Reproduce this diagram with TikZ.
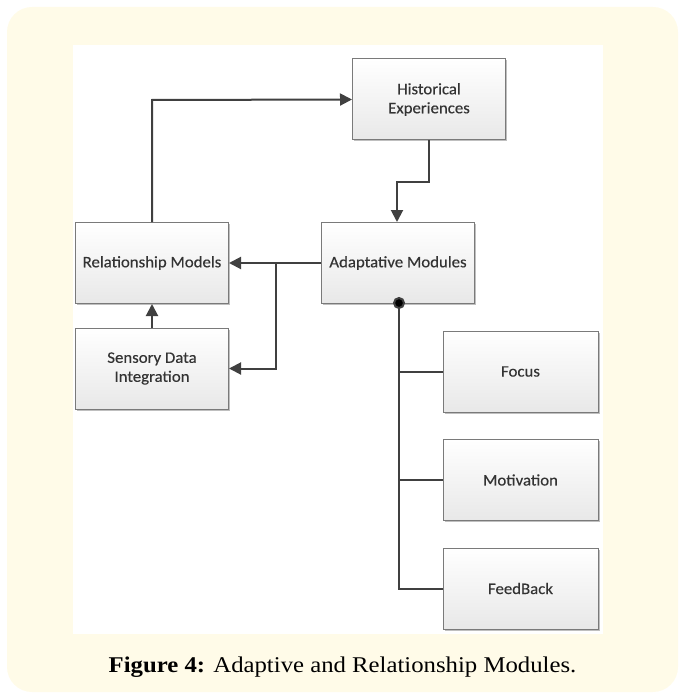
\documentclass[tikz,border=0pt]{standalone}
\usepackage{fontspec}
\setsansfont{Carlito}[FakeStretch=1.05,FakeBold=0.35]
\newfontfamily\capfont{Liberation Serif}[FakeStretch=1.1]
\usetikzlibrary{arrows.meta,shadows}
\definecolor{cream}{HTML}{FFFBE8}
\definecolor{boxedge}{HTML}{7A7A7A}
\definecolor{wire}{HTML}{404040}
\definecolor{boxtxt}{HTML}{333333}
\begin{document}
\begin{tikzpicture}[x=1pt,y=-1pt,
  block/.style={draw=boxedge,line width=1pt,top color=white,bottom color=black!9,
    minimum width=153pt,minimum height=81pt,inner sep=0pt,align=center,
    font=\sffamily\fontsize{16}{19}\selectfont,text=boxtxt,
    drop shadow={shadow xshift=1.5pt,shadow yshift=-1.5pt,opacity=0.25,fill=black}},
  wire/.style={draw=wire,line width=2pt},
  arr/.style={wire,-{Triangle[length=12pt,width=12pt]}}]
\useasboundingbox (0,0) rectangle (680,695);
\fill[cream,rounded corners=25pt] (7,7) rectangle (678,692);
\fill[white] (73,45) rectangle (603,634);

\node[block] (hist) at (429,99.5) {Historical\\Experiences};
\node[block] (adapt) at (398,263) {Adaptative Modules};
\node[block] (rel) at (152,263) {Relationship Models};
\node[block] (sens) at (152,368.5) {Sensory Data\\Integration};
\node[block,minimum width=155pt] (focus) at (520.5,371.5) {Focus};
\node[block,minimum width=155pt] (motiv) at (520.5,480) {Motivation};
\node[block,minimum width=155pt] (feed) at (520.5,588.5) {FeedBack};

\coordinate (top) at (152,100);
\coordinate (split) at (276,263);
\coordinate (dot) at (399,303);

\draw[arr] (rel.north) -- (top) -- (hist.west);
\draw[arr] (hist.south) -- (429,182) -- (397,182) -- (397,222);
\draw[arr] (adapt.west) -- (rel.east);
\draw[arr] (split) |- (sens.east);
\draw[arr] (sens.north) -- (rel.south);
\draw[wire] (dot) |- (feed.west);
\draw[wire] (dot |- focus.west) -- (focus.west);
\draw[wire] (dot |- motiv.west) -- (motiv.west);
\fill[wire] (dot) circle (5pt);

\node[font=\capfont\fontsize{22.5}{27}\selectfont,anchor=base] (cap) at (342.5,672)
  {\textbf{Figure 4:} Adaptive and Relationship Modules.};
\end{tikzpicture}
\end{document}
